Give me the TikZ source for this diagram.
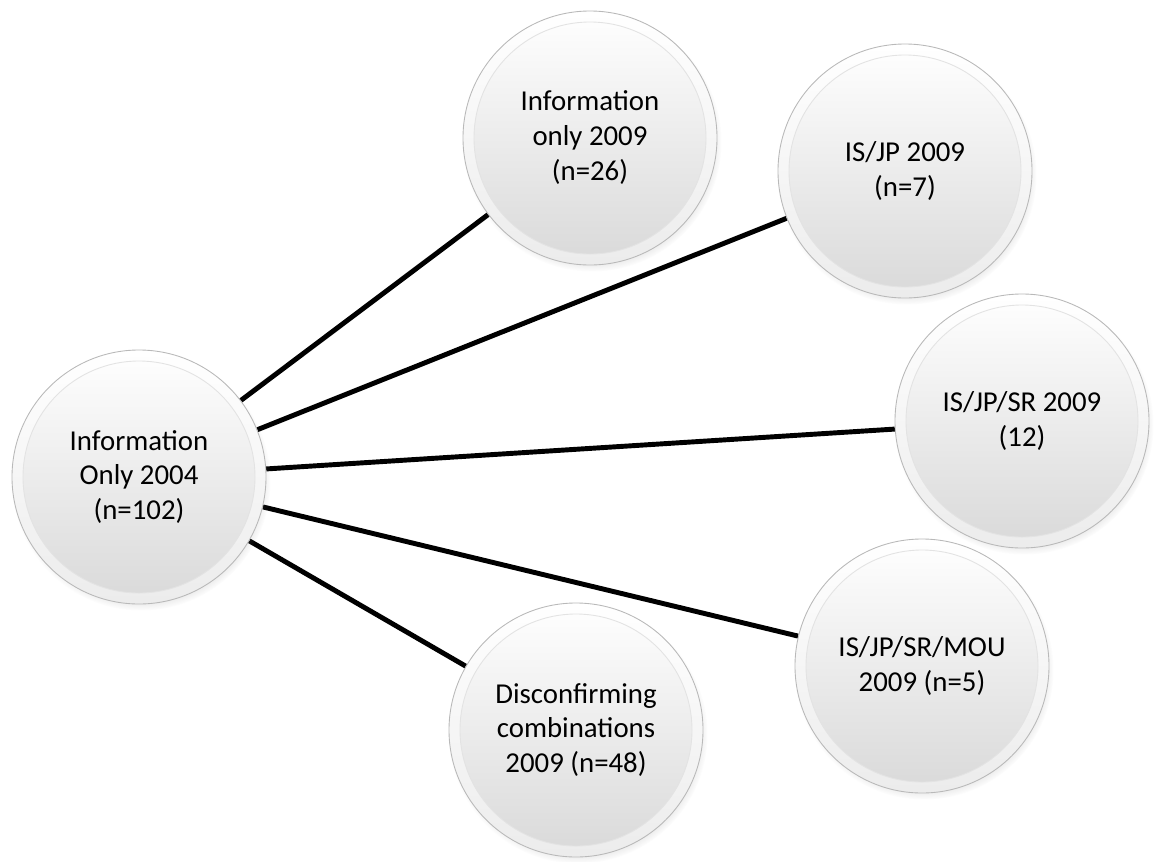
\documentclass[tikz,border=0pt]{standalone}
\usepackage{fontspec}
\setmainfont{Carlito}
\usetikzlibrary{backgrounds}
\usetikzlibrary{shadows}

\begin{document}
\begin{tikzpicture}[x=0.2mm, y=-0.2mm,
    bubble/.style={circle, minimum size=50.8mm, inner sep=0pt, draw=gray!55, line width=0.5pt,
        top color=white, bottom color=gray!15, align=center,
        font=\fontsize{16.4}{19.9}\selectfont,
        circular drop shadow={shadow xshift=0.4mm, shadow yshift=-0.8mm, opacity=0.35, shadow scale=1.02},
        path picture={\shade [top color=white, bottom color=gray!30, draw=gray!22]
            (path picture bounding box.center) circle [radius=23.2mm];}},
    link/.style={line width=2.8pt, black}]
    \useasboundingbox (0,0) rectangle (1156,861);
    \node (info04) [bubble] at (139,477) {Information\\Only 2004\\(n=102)};
    \node (info09) [bubble] at (590,138) {Information\\only 2009\\(n=26)};
    \node (isjp) [bubble] at (905,171) {IS/JP 2009\\(n=7)};
    \node (isjpsr) [bubble] at (1022,421) {IS/JP/SR 2009\\(12)};
    \node (isjpsrmou) [bubble] at (922,666) {IS/JP/SR/MOU\\2009 (n=5)};
    \node (disconf) [bubble] at (576,730) {Disconfirming\\combinations\\2009 (n=48)};
    \begin{scope}[on background layer]
        \draw [link] (info04) -- (info09);
        \draw [link] (info04) -- (isjp);
        \draw [link] (info04) -- (isjpsr);
        \draw [link] (info04) -- (isjpsrmou);
        \draw [link] (info04) -- (disconf);
    \end{scope}
\end{tikzpicture}
\end{document}
